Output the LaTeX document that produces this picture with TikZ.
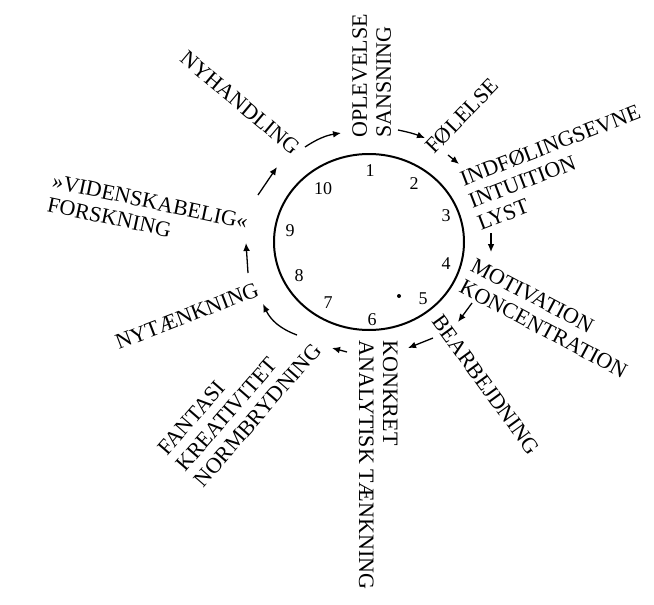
\documentclass[tikz,border=0pt]{standalone}
\usepackage{fontspec}
\setmainfont{Liberation Serif}
\usetikzlibrary{arrows.meta,shapes.geometric}

\begin{document}
\begin{tikzpicture}[
      x=0.5pt, y=-0.5pt,
      font=\fontsize{11}{12}\selectfont,
      ring/.style={
          ellipse, draw, line width=1pt, inner sep=0pt,
          minimum width=95pt, minimum height=88pt
      },
      num/.style={inner sep=0pt, font=\fontsize{9}{10}\selectfont},
      lbl/.style={inner sep=0pt, align=left, anchor=north west},
      word/.style={inner sep=0pt, anchor=center},
      flow/.style={-{Latex[length=4pt,width=3.4pt]}, line width=0.65pt}
  ]
  \useasboundingbox (0,0) rectangle (654,605);

  % the circle with its ten stations
  \node[ring] (clock) at (369,242) {};
  \foreach \n/\x/\y in {1/370/171, 2/414/184, 3/446/216, 4/446/264, 5/423/299,
                        6/372/320, 7/328/303, 8/299/276, 9/290/231, 10/323/189}{
      \node[num] (n\n) at (\x,\y) {\n};
  }
  \fill (399,296) circle [radius=2];

  % labels round the circle
  \node[lbl, rotate=90]  (oplevelse) at (352,138) {OPLEVELSE\\SANSNING};
  \node[word, rotate=46] (foelelse) at (462,116) {FØLELSE};
  \node[lbl, rotate=21]  (indfoeling) at (458,172) {INDFØLINGSEVNE\\INTUITION\\LYST};
  \node[lbl, rotate=-28] (motivation) at (476,257) {MOTIVATION\\KONCENTRATION};
  \node[word, rotate=-54] (bearbejdning) at (486,385) {BEARBEJDNING};
  \node[lbl, rotate=-90] (konkret) at (398,340) {KONKRET\\ANALYTISK TÆNKNING};
  \node[lbl, rotate=49]  (fantasi) at (156,447) {FANTASI\\KREATIVITET\\NORMBRYDNING};
  \node[word, rotate=21] (nytaenkning) at (187,316) {NYTÆNKNING};
  \node[lbl, rotate=-12] (forskning) at (54,173) {»VIDENSKABELIG«\\FORSKNING};
  \node[word, rotate=-40] (nyhandling) at (240,103) {NYHANDLING};

  % arrows from one station to the next
  \foreach \i/\xa/\ya/\xb/\yb/\b in {
      1/305/147/341/133/12, 2/398/130/425/138/5, 3/448/155/459/164/0,
      4/491/233/491/252/0, 5/472/303/458/322/0, 6/433/338/408/348/0,
      7/347/352/332/348/0, 8/297/335/263/304/22, 9/248/273/246/243/0,
      10/258/195/277/167/0}{
      \coordinate (s\i) at (\xa,\ya);
      \coordinate (e\i) at (\xb,\yb);
      \draw[flow] (s\i) to[bend left=\b] (e\i);
  }
\end{tikzpicture}
\end{document}
